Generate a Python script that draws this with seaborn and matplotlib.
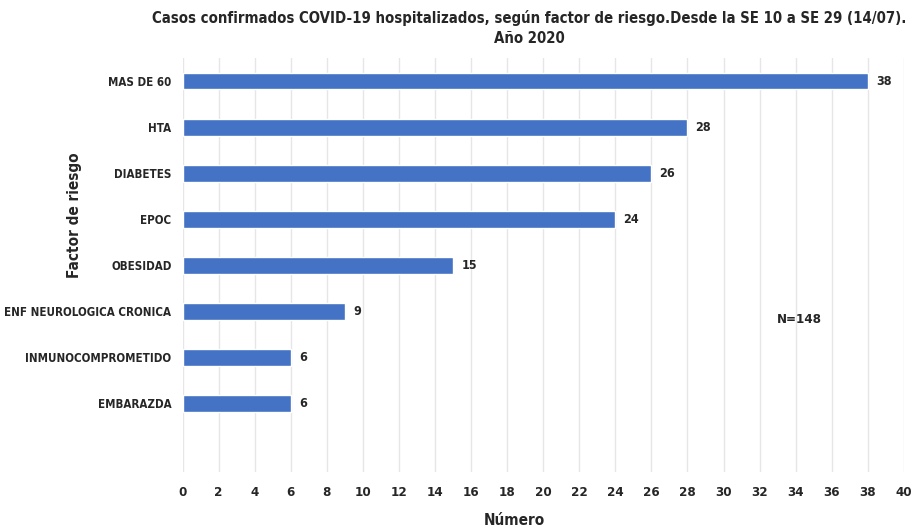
import matplotlib
matplotlib.use('Agg')
import matplotlib.pyplot as plt
import seaborn as sns
import pandas as pd

# Data
factores = ['MAS DE 60', 'HTA', 'DIABETES', 'EPOC', 'OBESIDAD',
            'ENF NEUROLOGICA CRONICA', 'INMUNOCOMPROMETIDO', 'EMBARAZDA']
casos = [38, 28, 26, 24, 15, 9, 6, 6]
x_ticks = list(range(0, 41, 2))

sns.set_theme(style='white')
plt.rcParams['font.family'] = ['DejaVu Sans']
plt.rcParams['font.stretch'] = 'condensed'
plt.rcParams['font.weight'] = 'bold'

df = pd.DataFrame({'factor': factores, 'casos': casos})

fig, ax = plt.subplots(figsize=(9.13, 5.29), dpi=100)
fig.subplots_adjust(left=0.2, right=0.99, top=0.89, bottom=0.107)

sns.barplot(x='casos', y='factor', data=df, color='#4472C4', width=0.36,
            saturation=1, ax=ax, zorder=3)

# value labels
for i, v in enumerate(casos):
    ax.text(v + 0.45, i, str(v), va='center', ha='left', fontsize=9,
            fontweight='bold', color='#262626')

ax.text(34.2, 5.17, 'N=148', fontsize=9.5, fontweight='bold', color='#262626',
        va='center', ha='center')

ax.set_xlim(0, 40)
ax.set_ylim(8.5, -0.5)
ax.set_xticks(x_ticks)
ax.tick_params(axis='x', labelsize=9.5, colors='#262626', length=0, pad=10)
ax.tick_params(axis='y', labelsize=8.3, colors='#262626', length=0, pad=8)
for lbl in ax.get_xticklabels() + ax.get_yticklabels():
    lbl.set_fontweight('bold')
ax.grid(axis='x', color='#E6E6E6', linewidth=1, zorder=0)
ax.grid(axis='y', visible=False)
sns.despine(ax=ax, left=True, bottom=True)

ax.set_xlabel('Número', fontsize=11, fontweight='bold', color='#262626')
ax.set_ylabel('Factor de riesgo', fontsize=11, fontweight='bold', color='#262626')
ax.xaxis.set_label_coords(0.46, -0.097)
ax.yaxis.set_label_coords(-0.139, 0.62)

fig.suptitle('Casos confirmados COVID-19 hospitalizados, según factor de riesgo.Desde la SE 10 a SE 29 (14/07).\nAño 2020',
             x=0.58, y=0.982, fontsize=10.7, fontweight='bold', color='#262626',
             linespacing=1.45)

plt.savefig('out.png', dpi=100)
plt.close()
